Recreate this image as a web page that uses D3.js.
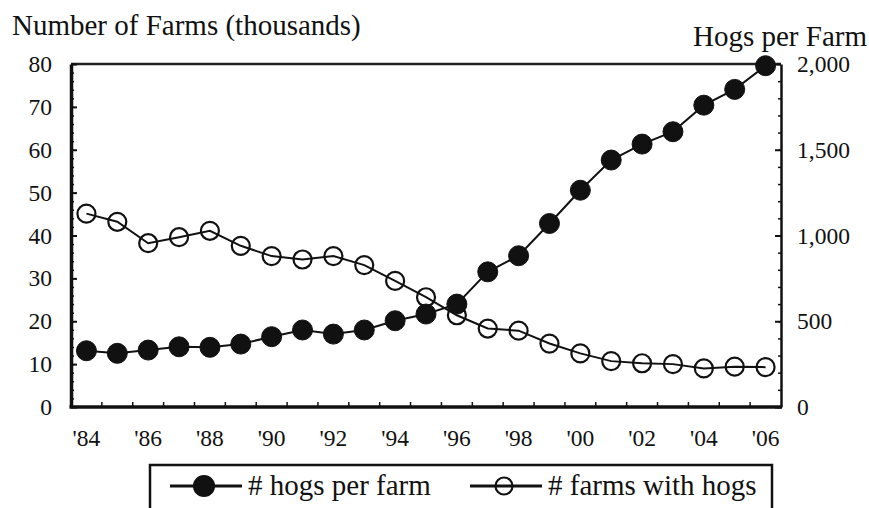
<!DOCTYPE html>
<html><head><meta charset="utf-8">
<script src="https://cdn.jsdelivr.net/npm/d3@7"></script>
<style>
body{margin:0;background:#fff;}
svg text{font-family:"Liberation Serif","Times New Roman",Times,Tinos,"DejaVu Serif",serif !important;fill:#111;}
</style></head>
<body><svg id="c" width="869" height="508"></svg>
<script>
const years = [1984,1985,1986,1987,1988,1989,1990,1991,1992,1993,1994,1995,1996,1997,1998,1999,2000,2001,2002,2003,2004,2005,2006];
const hogsPerFarm = [328,313,332,351,348,367,410,449,425,449,503,542,600,788,882,1070,1264,1440,1533,1605,1760,1852,1990];
const farmsThousands = [45.1,43.2,38.2,39.6,41.1,37.6,35.2,34.4,35.2,33.1,29.4,25.6,21.4,18.3,17.8,14.8,12.5,10.7,10.2,10.0,9.0,9.4,9.3];
const leftTicks = [0,10,20,30,40,50,60,70,80];
const rightTicks = [0,500,1000,1500,2000];
const xLabelYears = [1984,1986,1988,1990,1992,1994,1996,1998,2000,2002,2004,2006];
const leftTitle = "Number of Farms (thousands)";
const rightTitle = "Hogs per Farm";
const legendLabels = ["# hogs per farm", "# farms with hogs"];

const svg = d3.select("#c");
const L = 71, R = 781, T = 64, B = 407;
const x = d3.scaleBand().domain(years).range([L, R]).padding(0);
const cx = d => x(d) + x.bandwidth()/2;
const yL = d3.scaleLinear().domain([0,80]).range([B, T]);
const yR = d3.scaleLinear().domain([0,2000]).range([B, T]);

// titles
svg.append("text").attr("x", 12).attr("y", 35).attr("font-size", 29).text(leftTitle);
svg.append("text").attr("x", 867).attr("y", 46).attr("text-anchor","end").attr("font-size", 29).text(rightTitle);

// frame top line
svg.append("line").attr("x1", L).attr("x2", R).attr("y1", T).attr("y2", T).attr("stroke","#222").attr("stroke-width",2.5);

// left axis minor ticks
const gLm = svg.append("g").attr("transform",`translate(${L},0)`)
  .call(d3.axisLeft(yL).tickValues(d3.range(0,81,2)).tickSize(-3).tickFormat(""));
gLm.select(".domain").remove();
gLm.selectAll("line").attr("stroke","#111").attr("stroke-width",1.5);
// left axis major
const gL = svg.append("g").attr("transform",`translate(${L},0)`)
  .call(d3.axisLeft(yL).tickValues(leftTicks).tickSize(-6).tickPadding(19).tickSizeOuter(0));
gL.attr("font-family", null);
gL.select(".domain").attr("stroke","#111").attr("stroke-width",3.5);
gL.selectAll("line").attr("stroke","#111").attr("stroke-width",2);
gL.selectAll("text").attr("font-size",23.5).attr("fill","#111");

// right axis minor ticks
const gRm = svg.append("g").attr("transform",`translate(${R},0)`)
  .call(d3.axisRight(yR).tickValues(d3.range(0,2001,100)).tickSize(-3).tickFormat(""));
gRm.select(".domain").remove();
gRm.selectAll("line").attr("stroke","#111").attr("stroke-width",1.5);
const gR = svg.append("g").attr("transform",`translate(${R},0)`)
  .call(d3.axisRight(yR).tickValues(rightTicks).tickSize(-6).tickPadding(16).tickSizeOuter(0).tickFormat(d3.format(",")));
gR.attr("font-family", null);
gR.select(".domain").attr("stroke","#111").attr("stroke-width",2.5);
gR.selectAll("line").attr("stroke","#111").attr("stroke-width",2);
gR.selectAll("text").attr("font-size",23.5).attr("fill","#111");

// bottom axis: ticks at category boundaries, labels centered
const gB = svg.append("g").attr("transform",`translate(0,${B})`);
gB.append("line").attr("x1",L-1.5).attr("x2",R+1).attr("y1",0).attr("y2",0).attr("stroke","#111").attr("stroke-width",3.5);
gB.selectAll("line.t").data(years.slice(1)).join("line").attr("class","t")
  .attr("x1", d => x(d)).attr("x2", d => x(d)).attr("y1",0).attr("y2",-5).attr("stroke","#111").attr("stroke-width",1.5);
gB.selectAll("text").data(xLabelYears).join("text")
  .attr("x", d => cx(d)).attr("y", 39).attr("text-anchor","middle").attr("font-size",23.5)
  .text(d => "'" + String(d).slice(2));

// series: farms (left axis), open circles
const farmsData = years.map((yr,i) => ({yr, v: farmsThousands[i]}));
const hogsData = years.map((yr,i) => ({yr, v: hogsPerFarm[i]}));
svg.append("path").datum(farmsData)
  .attr("d", d3.line().x(d => cx(d.yr)).y(d => yL(d.v)))
  .attr("fill","none").attr("stroke","#111").attr("stroke-width",2);
svg.selectAll("circle.f").data(farmsData).join("circle").attr("class","f")
  .attr("cx", d => cx(d.yr)).attr("cy", d => yL(d.v)).attr("r", 9)
  .attr("fill","none").attr("stroke","#111").attr("stroke-width",2.2);

svg.append("path").datum(hogsData)
  .attr("d", d3.line().x(d => cx(d.yr)).y(d => yR(d.v)))
  .attr("fill","none").attr("stroke","#111").attr("stroke-width",2);
svg.selectAll("circle.h").data(hogsData).join("circle").attr("class","h")
  .attr("cx", d => cx(d.yr)).attr("cy", d => yR(d.v)).attr("r", 10)
  .attr("fill","#111").attr("stroke","#111").attr("stroke-width",1);

// legend
const lg = svg.append("g");
lg.append("rect").attr("x",150).attr("y",465).attr("width",622).attr("height",60)
  .attr("fill","#fff").attr("stroke","#111").attr("stroke-width",2.5);
const items = [{x:170, filled:true, label:legendLabels[0]}, {x:470, filled:false, label:legendLabels[1]}];
items.forEach(it => {
  lg.append("line").attr("x1",it.x).attr("x2",it.x+72).attr("y1",486).attr("y2",486).attr("stroke","#111").attr("stroke-width",3);
  lg.append("circle").attr("cx",it.x+34).attr("cy",486).attr("r", it.filled?10:8.5)
    .attr("fill", it.filled?"#111":"none").attr("stroke","#111").attr("stroke-width",2.2);
  lg.append("text").attr("x",it.x+78).attr("y",495).attr("font-size",29).text(it.label);
});
</script></body></html>
